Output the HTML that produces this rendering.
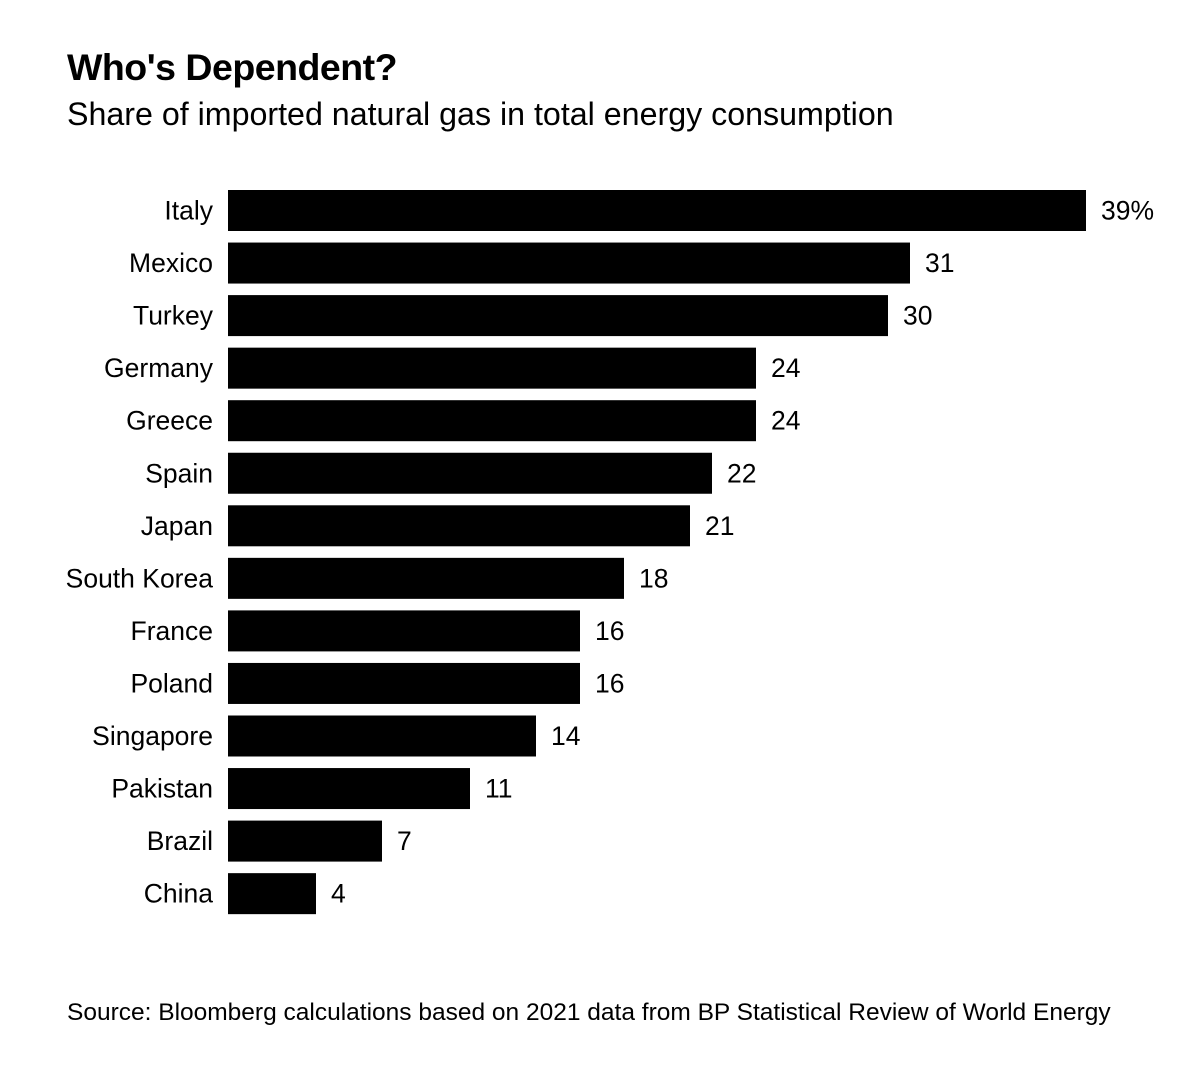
<!DOCTYPE html>
<html><head><meta charset="utf-8"><style>
body{margin:0;background:#fff;font-family:"Liberation Sans",Arial,sans-serif;color:#000}
#wrap{position:relative;width:1200px;height:1069px;overflow:hidden}
.t{position:absolute;white-space:nowrap}
</style></head><body>
<div id="wrap">
<div class="t" style="left:67px;top:46px;font-size:37.5px;font-weight:bold;letter-spacing:-0.5px">Who's Dependent?</div>
<div class="t" style="left:67px;top:96px;font-size:32.2px">Share of imported natural gas in total energy consumption</div>
<svg id="chart" width="1200" height="1069" style="position:absolute;left:0;top:0"></svg>
<div class="t" style="left:67px;top:999px;font-size:24.5px">Source: Bloomberg calculations based on 2021 data from BP Statistical Review of World Energy</div>
</div>
<script>
const categories=["Italy","Mexico","Turkey","Germany","Greece","Spain","Japan","South Korea","France","Poland","Singapore","Pakistan","Brazil","China"];
const values=[39,31,30,24,24,22,21,18,16,16,14,11,7,4];
const valueLabels=["39%","31","30","24","24","22","21","18","16","16","14","11","7","4"];
const svg=document.getElementById('chart');
const NS='http://www.w3.org/2000/svg';
const x0=228,unit=22,y0=190,pitch=52.55,bh=41;
const xs=v=>x0+v*unit;
const ys=i=>y0+i*pitch;
categories.forEach((c,i)=>{
  const r=document.createElementNS(NS,'rect');
  r.setAttribute('x',x0);r.setAttribute('y',ys(i));
  r.setAttribute('width',xs(values[i])-x0);r.setAttribute('height',bh);
  r.setAttribute('fill','#000');
  
  
  svg.appendChild(r);
  const l=document.createElementNS(NS,'text');
  l.setAttribute('x',213);l.setAttribute('y',ys(i)+bh/2+9);
  l.setAttribute('text-anchor','end');l.setAttribute('font-size','26.5');
  l.setAttribute('font-family','Liberation Sans, Arial, sans-serif');
  l.textContent=c;
  
  
  svg.appendChild(l);
  const v=document.createElementNS(NS,'text');
  v.setAttribute('x',xs(values[i])+15);v.setAttribute('y',ys(i)+bh/2+9);
  v.setAttribute('font-size','26.5');
  v.setAttribute('font-family','Liberation Sans, Arial, sans-serif');
  v.textContent=valueLabels[i];
  
  
  svg.appendChild(v);
});
</script>
</body></html>
